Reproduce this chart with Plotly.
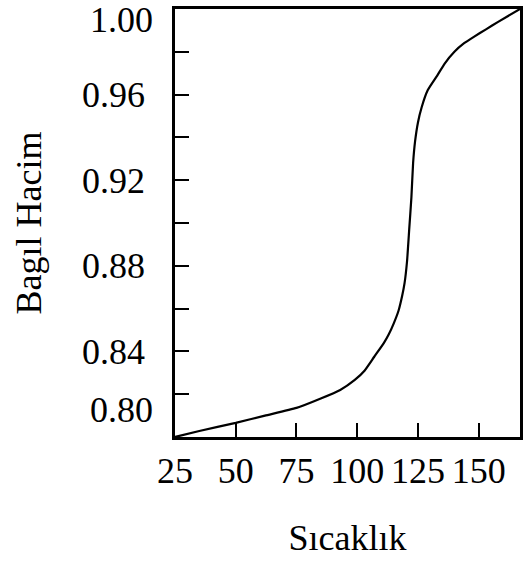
import plotly.graph_objects as go

temperature = [25, 35, 50, 62, 75, 85, 93, 99, 103, 107, 111, 113, 115, 117, 118.5,
               119.5, 120.5, 121.4, 122.3, 123, 123.8, 125, 126.5, 129, 133, 136,
               140, 144, 148, 153, 158, 167]
relative_volume = [0.800, 0.8028, 0.8066, 0.810, 0.8136, 0.818, 0.822, 0.8267, 0.831,
                   0.8375, 0.844, 0.848, 0.853, 0.859, 0.866, 0.872, 0.882, 0.897,
                   0.912, 0.928, 0.938, 0.947, 0.954, 0.962, 0.969, 0.9745,
                   0.980, 0.984, 0.987, 0.9905, 0.994, 1.000]

x_tickvals = [25, 50, 75, 100, 125, 150]
x_ticktext = ["25", "50", "75", "100", "125", "150"]
y_tickvals = [0.80, 0.82, 0.84, 0.86, 0.88, 0.90, 0.92, 0.94, 0.96, 0.98, 1.00]
y_ticktext = ["0.80", "", "0.84", "", "0.88", "", "0.92", "", "0.96", "", "1.00"]

font_family = "Liberation Serif"
fsize = 36

# the two end labels sit slightly inside the frame in the reference,
# so they are drawn as annotations at their tick values
axis_ticktext = [""] + y_ticktext[1:-1] + [""]

fig = go.Figure()
fig.add_trace(go.Scatter(
    x=temperature, y=relative_volume, mode="lines",
    line=dict(color="black", width=2.2, shape="spline", smoothing=0.5),
    showlegend=False, hoverinfo="skip",
))

fig.update_layout(
    width=524, height=564,
    margin=dict(l=175, r=4, t=9, b=127),
    paper_bgcolor="white", plot_bgcolor="white",
    font=dict(family=font_family, color="black", size=fsize),
)
fig.update_xaxes(
    range=[25, 167], tickvals=x_tickvals, ticktext=x_ticktext,
    ticks="inside", ticklen=14, tickwidth=2, tickcolor="black",
    showline=True, linecolor="black", linewidth=2.5, mirror=True,
    showgrid=False, zeroline=False, automargin=False,
    ticklabelstandoff=0, ticklabeloverflow="allow",
    tickfont=dict(family=font_family, size=fsize),
    title=dict(text="Sıcaklık", font=dict(family=font_family, size=fsize), standoff=35),
)
fig.update_yaxes(
    range=[0.80, 1.00], tickvals=y_tickvals, ticktext=axis_ticktext,
    ticks="inside", ticklen=14, tickwidth=2, tickcolor="black",
    showline=True, linecolor="black", linewidth=2.5, mirror=True,
    showgrid=False, zeroline=False, automargin=False,
    ticklabelstandoff=20, ticklabeloverflow="allow",
    tickfont=dict(family=font_family, size=fsize),
    title=dict(text="Bagıl Hacim", font=dict(family=font_family, size=fsize), standoff=30),
)

fig.add_annotation(x=0, xref="paper", y=y_tickvals[-1], yref="y", text=y_ticktext[-1],
                   showarrow=False, xanchor="right", yanchor="middle",
                   xshift=-20, yshift=-11, font=dict(family=font_family, size=fsize))
fig.add_annotation(x=0, xref="paper", y=y_tickvals[0], yref="y", text=y_ticktext[0],
                   showarrow=False, xanchor="right", yanchor="middle",
                   xshift=-20, yshift=27, font=dict(family=font_family, size=fsize))

fig.write_html("out.html", config={"displayModeBar": False},
               post_script="document.body.style.margin='0';")
